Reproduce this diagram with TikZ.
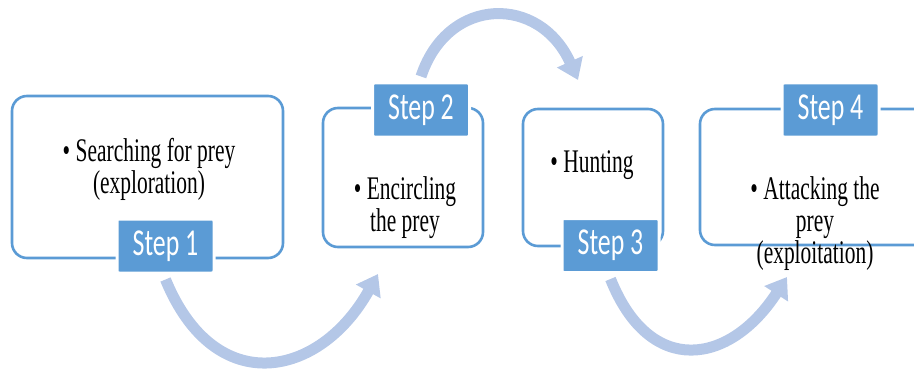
\documentclass[tikz,border=0pt]{standalone}
\usepackage{fontspec}
\usepackage{tikz}
\usetikzlibrary{backgrounds,arrows.meta}
\definecolor{stepblue}{HTML}{5B9BD5}
\definecolor{flowblue}{HTML}{B4C7E7}
\newfontfamily\stepfont[FakeStretch=0.68]{Carlito}
\newfontfamily\notefont[FakeStretch=0.65]{Liberation Serif}
\begin{document}
\begin{tikzpicture}[x=1pt,y=-1pt,
	panel/.style={draw=stepblue,line width=2.6pt,rounded corners=15pt,fill=white},
	tab/.style={draw=white,line width=3pt,fill=stepblue,rounded corners=2pt,text=white,minimum width=97pt,minimum height=54pt,inner sep=0pt,font=\stepfont\fontsize{38}{40}\selectfont},
	note/.style={align=center,inner sep=0pt,font=\notefont\fontsize{33}{32}\selectfont},
	flow/.style={draw=flowblue,line width=11pt,-{Triangle[length=20pt,width=27pt]}}]
		\useasboundingbox (0,0) rectangle (914,369);
		\clip (0,0) rectangle (914,369);
		\path (147.5,177) node[panel,minimum width=271pt,minimum height=162pt] (box1) {}
		(403,177.5) node[panel,minimum width=160pt,minimum height=139pt] (box2) {}
		(593,177.5) node[panel,minimum width=140pt,minimum height=137pt] (box3) {}
		(820,177) node[panel,minimum width=240pt,minimum height=136pt] (box4) {};

		\path (149,169) node[note] (note1) {\textbullet\,Searching for prey\\(exploration)}
		(405,208) node[note] (note2) {\textbullet\,Encircling\\the prey}
		(592,165) node[note] (note3) {\textbullet\,Hunting}
		(815,224) node[note] (note4) {\textbullet\,Attacking the\\prey\\(exploitation)};

		\path (165.5,246) node[tab] (step1) {Step 1}
		(421,110) node[tab] (step2) {Step 2}
		(610.5,245.5) node[tab] (step3) {Step 3}
		(830.5,110) node[tab] (step4) {Step 4};

		\coordinate (tip1) at (378,274);
		\coordinate (tip2) at (578,80);
		\coordinate (tip3) at (787,277);

		\begin{scope}[on background layer]
		\draw[flow] ([yshift=-5pt]step1.south) .. controls (215,400) and (320,378) .. (tip1);
		\draw[flow] ([yshift=5pt]step2.north) .. controls (448,-5) and (540,-5) .. (tip2);
		\draw[flow] ([yshift=-5pt]step3.south) .. controls (650,378) and (730,365) .. (tip3);
		\end{scope}
	\end{tikzpicture}
\end{document}
